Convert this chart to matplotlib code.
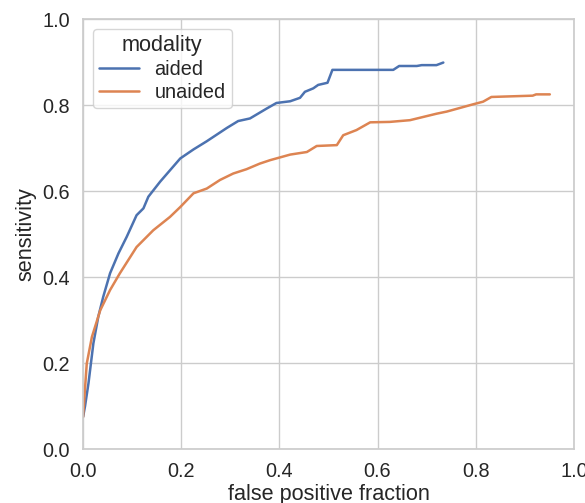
import matplotlib
matplotlib.use("Agg")
import matplotlib.pyplot as plt
import seaborn as sns

# ROC points (false positive fraction, sensitivity)
aided_fpf = [0.0, 0.004, 0.011, 0.021, 0.031, 0.041, 0.055, 0.072, 0.089, 0.109,
             0.123, 0.133, 0.157, 0.198, 0.225, 0.252, 0.293, 0.316, 0.340, 0.374,
             0.394, 0.422, 0.442, 0.452, 0.469, 0.479, 0.498, 0.508, 0.632, 0.644,
             0.680, 0.690, 0.720, 0.734]
aided_sens = [0.075, 0.10, 0.153, 0.246, 0.308, 0.354, 0.409, 0.455, 0.494, 0.544,
              0.560, 0.587, 0.622, 0.676, 0.697, 0.716, 0.747, 0.763, 0.769, 0.792,
              0.805, 0.809, 0.817, 0.831, 0.839, 0.847, 0.852, 0.882, 0.882, 0.891,
              0.891, 0.893, 0.893, 0.899]

unaided_fpf = [0.0, 0.0075, 0.018, 0.035, 0.055, 0.075, 0.109, 0.143, 0.177, 0.198,
               0.225, 0.252, 0.279, 0.306, 0.333, 0.360, 0.381, 0.422, 0.456, 0.476,
               0.517, 0.530, 0.557, 0.585, 0.625, 0.666, 0.720, 0.741, 0.795, 0.815,
               0.832, 0.916, 0.923, 0.951]
unaided_sens = [0.075, 0.199, 0.261, 0.323, 0.370, 0.409, 0.470, 0.509, 0.540, 0.563,
                0.595, 0.606, 0.626, 0.641, 0.651, 0.664, 0.672, 0.685, 0.691, 0.705,
                0.707, 0.730, 0.742, 0.760, 0.761, 0.765, 0.780, 0.785, 0.802, 0.808,
                0.819, 0.822, 0.825, 0.825]

sns.set_theme(style="whitegrid", font_scale=1.3)
plt.rcParams["font.family"] = ["Liberation Sans", "DejaVu Sans"]

fig = plt.figure(figsize=(5.85, 5.03), dpi=100)
ax = fig.add_axes([0.142, 0.107, 0.839, 0.855])

ax.plot(aided_fpf, aided_sens, color="#4C72B0", lw=1.8, label="aided")
ax.plot(unaided_fpf, unaided_sens, color="#DD8452", lw=1.8, label="unaided")

ax.set_xlim(0, 1)
ax.set_ylim(0, 1)
ax.set_xlabel("false positive fraction", labelpad=2)
ax.set_ylabel("sensitivity")
ax.legend(title="modality", loc="upper left", labelspacing=0.2, borderpad=0.3)

fig.savefig("out.png", dpi=100)
